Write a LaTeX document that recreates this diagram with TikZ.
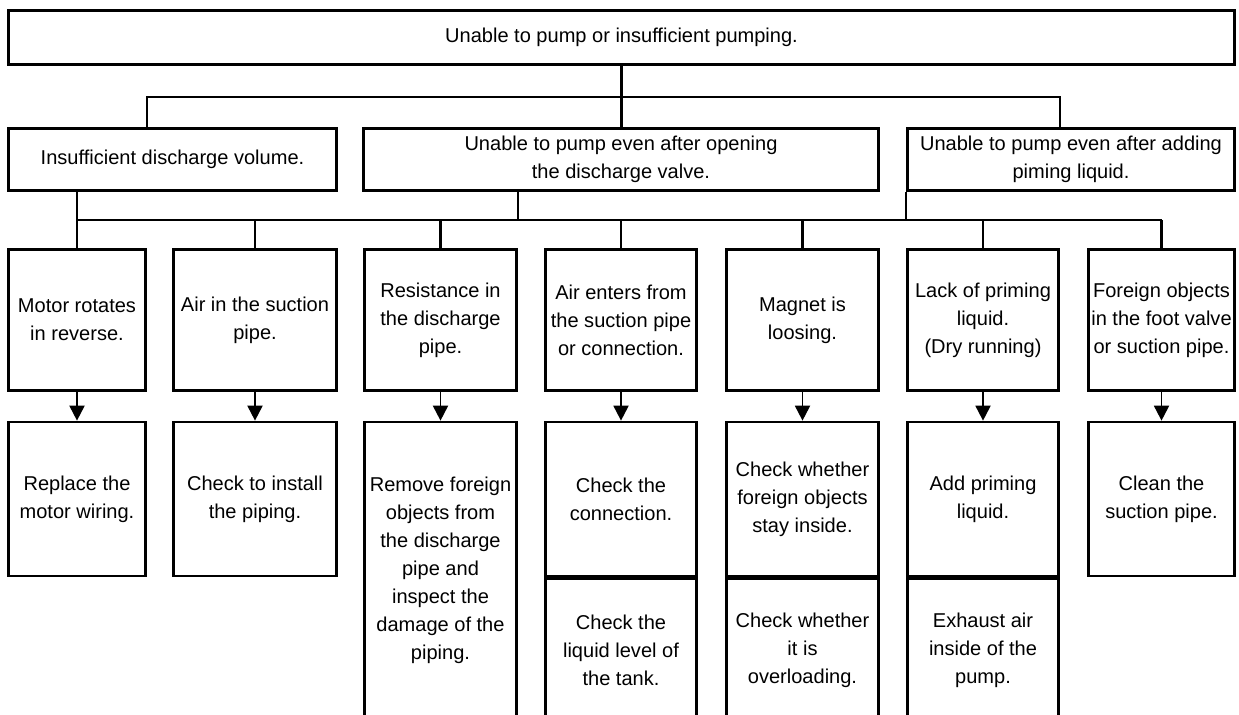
\documentclass[tikz,border=0pt]{standalone}
\usepackage{fontspec}
\setmainfont{Liberation Sans}
\usetikzlibrary{arrows.meta,positioning}

\begin{document}
\begin{tikzpicture}[x=1cm,y=1cm,>={Triangle[length=0.3cm,width=0.3cm]},
  every node/.style={font=\fontsize{11.4}{15.9}\selectfont, align=center, inner sep=1pt},
  box/.style={draw, line width=1.6pt},
  link/.style={line width=1.5pt},
  flow/.style={->, line width=1.1pt}]
        \useasboundingbox (0,0) rectangle (24.78,14.30);
        % problem and the three symptoms
        \node[box, minimum width=24.53cm, minimum height=1.09cm] (trouble) at (12.43,13.55) {Unable to pump or insufficient pumping.};
        \node[box, minimum width=6.57cm, minimum height=1.25cm] (volume) at (3.45,11.11) {Insufficient discharge volume.};
        \node[box, minimum width=10.31cm, minimum height=1.25cm] (valve) at (12.42,11.11) {Unable to pump even after opening\\the discharge valve.};
        \node[box, minimum width=6.55cm, minimum height=1.25cm] (prime) at (21.42,11.11) {Unable to pump even after adding\\piming liquid.};
        % causes
        \node[box, minimum width=2.75cm, minimum height=2.83cm] (rev) at (1.54,7.90) {Motor rotates\\in reverse.};
        \node[box, minimum width=3.27cm, minimum height=2.83cm] (air) at (5.10,7.90) {Air in the suction\\pipe.};
        \node[box, minimum width=3.05cm, minimum height=2.83cm] (resist) at (8.81,7.90) {Resistance in\\the discharge\\pipe.};
        \node[box, minimum width=3.03cm, minimum height=2.83cm] (leak) at (12.42,7.90) {Air enters from\\the suction pipe\\or connection.};
        \node[box, minimum width=3.05cm, minimum height=2.83cm] (magnet) at (16.05,7.90) {Magnet is\\loosing.};
        \node[box, minimum width=3.03cm, minimum height=2.83cm] (dry) at (19.66,7.90) {Lack of priming\\liquid.\\(Dry running)};
        \node[box, minimum width=2.93cm, minimum height=2.83cm] (foot) at (23.23,7.90) {Foreign objects\\in the foot valve\\or suction pipe.};
        % remedies
        \node[box, minimum width=2.75cm, minimum height=3.08cm, below=0.57cm of rev] (rewire) {Replace the\\motor wiring.};
        \node[box, minimum width=3.27cm, minimum height=3.08cm, below=0.57cm of air] (install) {Check to install\\the piping.};
        \node[box, minimum width=3.05cm, minimum height=5.94cm, below=0.57cm of resist] (remove) {Remove foreign\\objects from\\the discharge\\pipe and\\inspect the\\damage of the\\piping.};
        \node[box, minimum width=3.03cm, minimum height=3.08cm, below=0.57cm of leak] (joint) {Check the\\connection.};
        \node[box, minimum width=3.03cm, minimum height=2.86cm, below=0cm of joint] (level) {Check the\\liquid level of\\the tank.};
        \node[box, minimum width=3.05cm, minimum height=3.08cm, below=0.57cm of magnet] (inside) {Check whether\\foreign objects\\stay inside.};
        \node[box, minimum width=3.05cm, minimum height=2.86cm, below=0cm of inside] (overload) {Check whether\\it is\\overloading.};
        \node[box, minimum width=3.03cm, minimum height=3.08cm, below=0.57cm of dry] (addprime) {Add priming\\liquid.};
        \node[box, minimum width=3.03cm, minimum height=2.86cm, below=0cm of addprime] (exhaust) {Exhaust air\\inside of the\\pump.};
        \node[box, minimum width=2.93cm, minimum height=3.08cm, below=0.57cm of foot] (clean) {Clean the\\suction pipe.};
        % tree lines
        \coordinate (hub) at (0,12.36);
        \coordinate (bus) at (0,9.90);
        \draw[link] (trouble.south) -- (trouble.south |- valve.north);
        \draw[link] (volume.north -| rev.east) |- (hub -| dry.east) -- (prime.north -| dry.east);
        \draw[link] (volume.south -| rev) -- (rev.north);
        \draw[link] (valve.south -| resist.east) -- (resist.east |- bus);
        \draw[link] (prime.south -| dry.west) -- (dry.west |- bus);
        \draw[link] (rev.north |- bus) -- (foot.north |- bus);
        \foreach \c in {air,resist,leak,magnet,dry,foot} \draw[link] (\c.north) -- (\c.north |- bus);
        \foreach \c/\a in {rev/rewire,air/install,resist/remove,leak/joint,magnet/inside,dry/addprime,foot/clean} \draw[flow] (\c) -- (\a);
    \end{tikzpicture}
\end{document}
